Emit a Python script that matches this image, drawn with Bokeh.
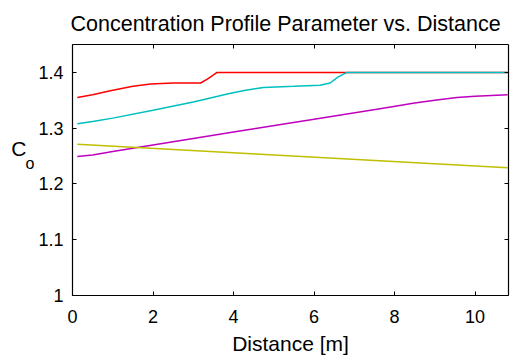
from bokeh.plotting import figure
from bokeh.models import LinearAxis, FixedTicker, NumeralTickFormatter, Range1d
from bokeh.embed import file_html
from bokeh.resources import INLINE

# ---- data ----
red_x = [0.12, 0.5, 0.94, 1.5, 1.94, 2.5, 3.18, 3.35, 3.59, 10.81]
red_y = [1.355, 1.360, 1.367, 1.375, 1.379, 1.381, 1.381, 1.388, 1.400, 1.400]

cyan_x = [0.12, 0.5, 1.0, 2.0, 3.0, 3.9, 4.3, 4.74, 5.5, 6.15, 6.4, 6.6, 6.82, 10.81]
cyan_y = [1.308, 1.312, 1.318, 1.332, 1.347, 1.362, 1.368, 1.373, 1.375, 1.377, 1.381, 1.392, 1.400, 1.400]

magenta_x = [0.12, 0.5, 1.0, 2.0, 4.0, 6.0, 7.64, 8.5, 9.0, 9.55, 10.0, 10.81]
magenta_y = [1.249, 1.252, 1.258, 1.270, 1.293, 1.316, 1.335, 1.345, 1.350, 1.355, 1.357, 1.360]

yellow_x = [0.12, 10.81]
yellow_y = [1.271, 1.229]

x_ticks = [0, 2, 4, 6, 8, 10]
y_ticks = [1.0, 1.1, 1.2, 1.3, 1.4]

FONT = "Liberation Sans"

p = figure(width=510, height=358, output_backend="svg", toolbar_location=None,
           x_range=Range1d(0, 10.83), y_range=Range1d(1.0, 1.45),
           min_border_left=72, min_border_right=2, min_border_top=44, min_border_bottom=63,
           x_axis_location=None, y_axis_location=None)
p.title.text = "Concentration Profile Parameter vs. Distance"
p.title.text_font = FONT
p.title.text_font_size = "21.5px"
p.title.text_font_style = "normal"
p.title.align = "left"
p.title.offset = -2
p.title.text_color = "#000000"
p.title.standoff = 18
p.xgrid.visible = False
p.ygrid.visible = False
p.outline_line_color = None
p.background_fill_color = "white"
p.border_fill_color = "white"

def style_axis(ax, labels=True):
    ax.axis_line_color = "black"
    ax.axis_line_width = 1.2
    ax.major_tick_in = 4
    ax.major_tick_out = 0
    ax.minor_tick_line_color = None
    ax.major_tick_line_color = "black"
    ax.major_label_text_font = FONT
    ax.major_label_text_font_size = "18px"
    if labels:
        ax.major_label_text_color = "#000000"
    else:
        ax.major_label_text_color = None
        ax.major_label_standoff = 0

xb = LinearAxis(ticker=FixedTicker(ticks=x_ticks), axis_label="Distance [m]")
style_axis(xb)
xb.major_label_standoff = 14
xb.axis_label_text_font = FONT
xb.axis_label_text_font_size = "21px"
xb.axis_label_text_font_style = "normal"
xb.axis_label_text_color = "#000000"
xb.axis_label_standoff = 6
p.add_layout(xb, "below")

yl = LinearAxis(ticker=FixedTicker(ticks=y_ticks), formatter=NumeralTickFormatter(format="0.[0]"))
style_axis(yl)
yl.major_label_standoff = 9
p.add_layout(yl, "left")

# y-axis label "C" with subscript "o": two label-only axes; a trailing blank
# line lifts each label above the frame's vertical centre
def label_axis(text, size, line_height, standoff):
    ax = LinearAxis(ticker=FixedTicker(ticks=[]), axis_label=text + "\n")
    ax.axis_line_color = None
    ax.major_tick_line_color = None
    ax.minor_tick_line_color = None
    ax.major_label_text_color = None
    ax.major_label_standoff = 0
    ax.major_tick_in = 0
    ax.major_tick_out = 0
    ax.axis_label_orientation = "horizontal"
    ax.axis_label_text_font = FONT
    ax.axis_label_text_font_size = size
    ax.axis_label_text_font_style = "normal"
    ax.axis_label_text_color = "#000000"
    ax.axis_label_text_line_height = line_height
    ax.axis_label_standoff = standoff
    return ax

p.add_layout(label_axis("o", "16px", 0.8, 1), "left")
p.add_layout(label_axis("C", "21px", 1.85, -4), "left")

xt = LinearAxis(ticker=FixedTicker(ticks=x_ticks))
style_axis(xt, labels=False)
p.add_layout(xt, "above")

yr = LinearAxis(ticker=FixedTicker(ticks=y_ticks))
style_axis(yr, labels=False)
p.add_layout(yr, "right")

p.line(red_x, red_y, line_color="#ff0000", line_width=1.5)
p.line(cyan_x, cyan_y, line_color="#00bfbf", line_width=1.5)
p.line(magenta_x, magenta_y, line_color="#bf00bf", line_width=1.5)
p.line(yellow_x, yellow_y, line_color="#bfbf00", line_width=1.5)

open("out.html", "w").write(file_html(p, INLINE))
